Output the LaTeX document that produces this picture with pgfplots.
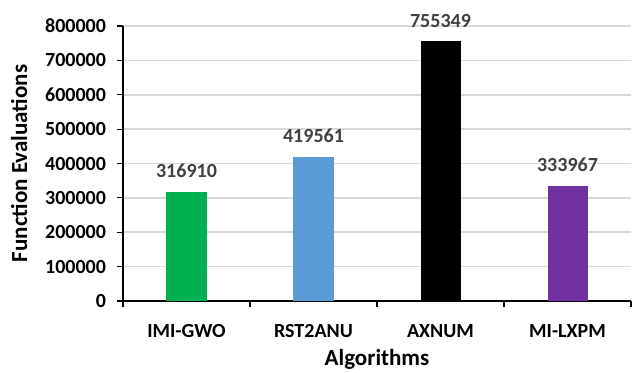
\documentclass[border=0pt]{standalone}
\usepackage{pgfplots}
\pgfplotsset{compat=1.18}
\usepackage{fontspec}
\setmainfont{Carlito}
\definecolor{cgreen}{HTML}{00B050}
\definecolor{cblue}{HTML}{5B9BD5}
\definecolor{cpurple}{HTML}{7030A0}
\definecolor{lblgray}{HTML}{404040}
\definecolor{gridgray}{HTML}{D9D9D9}
\begin{document}
\begin{tikzpicture}
\useasboundingbox (-61.5pt,-35.5pt) rectangle (256.5pt,150.5pt);
\begin{axis}[
  at={(0pt,0pt)}, anchor=south west,
  scale only axis,
  width=254pt, height=137.5pt,
  xmin=-0.5, xmax=3.5,
  ymin=0, ymax=800000,
  ytick={0,100000,...,800000},
  scaled y ticks=false,
  yticklabel style={/pgf/number format/fixed, /pgf/number format/1000 sep={}},
  /pgf/number format/assume math mode=true,
  xtick={0,1,2,3},
  xticklabels={IMI-GWO,RST2ANU,AXNUM,MI-LXPM},
  minor xtick={-0.5,0.5,1.5,2.5,3.5},
  major x tick style={draw=none},
  minor x tick style={black, line width=0.8pt},
  minor tick length=3pt,
  major tick length=3pt,
  tick align=outside,
  xtick pos=bottom, ytick pos=left,
  axis x line*=bottom, axis y line*=left,
  axis line style={black, line width=0.8pt, -},
  ytick style={black, line width=0.6pt},
  ymajorgrids, grid style={gridgray, line width=0.8pt},
  tick label style={font=\fontsize{10}{12}\selectfont\bfseries, black},
  xticklabel style={yshift=-5pt},
  yticklabel style={xshift=-2pt},
  xlabel={Algorithms}, ylabel={Function Evaluations},
  label style={font=\fontsize{11.5}{13}\selectfont\bfseries, black},
  xlabel style={yshift=1pt},
  ylabel style={yshift=2pt},
  ybar, bar width=0.315, bar shift=0pt,
  nodes near coords,
  nodes near coords style={font=\fontsize{10}{12}\selectfont\bfseries, lblgray, yshift=3.5pt, /pgf/number format/fixed, /pgf/number format/1000 sep={}},
  clip=false,
]
\addplot[fill=cgreen, draw=none] coordinates {(0,316910)};
\addplot[fill=cblue, draw=none] coordinates {(1,419561)};
\addplot[fill=black, draw=none] coordinates {(2,755349)};
\addplot[fill=cpurple, draw=none] coordinates {(3,333967)};
\end{axis}
\end{tikzpicture}
\end{document}
